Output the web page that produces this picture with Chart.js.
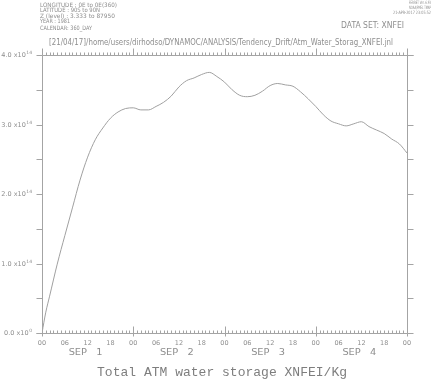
<!DOCTYPE html>
<html>
<head>
<meta charset="utf-8">
<script src="https://cdn.jsdelivr.net/npm/chart.js"></script>
<style>
  html, body { margin: 0; padding: 0; background: #fff; }
  canvas { display: block; }
</style>
</head>
<body>
<canvas id="myChart" width="433" height="383"></canvas>
<script>
// hours since SEP 1 00:00
const hours = [0, 1, 2, 4, 6, 8, 10, 12, 14, 16, 18, 20, 22, 24, 26, 28, 30, 32, 34, 36, 38, 40, 42, 44, 46, 48,
               50, 52, 54, 56, 58, 60, 62, 64, 66, 68, 70, 72, 74, 76, 78, 80, 82, 84, 86, 88, 90, 92, 94, 96];
// total ATM water storage, units of 1e14 kg
const storage = [0, 0.30, 0.53, 0.99, 1.40, 1.80, 2.20, 2.53, 2.78, 2.95, 3.09, 3.18, 3.23, 3.24, 3.21, 3.21, 3.26, 3.32,
                 3.41, 3.54, 3.63, 3.67, 3.72, 3.75, 3.69, 3.61, 3.50, 3.42, 3.40, 3.42, 3.48, 3.56, 3.59, 3.57,
                 3.55, 3.47, 3.37, 3.26, 3.14, 3.05, 3.01, 2.98, 3.01, 3.04, 2.97, 2.92, 2.87, 2.79, 2.72, 2.59];
const hourTicks = [0, 6, 12, 18, 24, 30, 36, 42, 48, 54, 60, 66, 72, 78, 84, 90, 96];
const dayLabels = ['SEP   1', 'SEP   2', 'SEP   3', 'SEP   4'];
const yTicks = [0, 1, 2, 3, 4];
const yTickLabels = ['0.0', '1.0', '2.0', '3.0', '4.0'];
const yExponents = ['0', '14', '14', '14', '14'];

const headerLeft = ['LONGITUDE : 0E to 0E(360)', 'LATITUDE : 90S to 90N', 'Z (level) : 3.333 to 87950',
                    'YEAR : 1981', 'CALENDAR: 360_DAY'];
const headerRight = ['FERRET Ver. 6.93', 'NOAA/PMEL TMAP', '21-APR-2017 23:05:52'];
const jnlPath = '[21/04/17]/home/users/dirhodso/DYNAMOC/ANALYSIS/Tendency_Drift/Atm_Water_Storag_XNFEI.jnl';
const dataSet = 'DATA SET: XNFEI';
const mainTitle = 'Total ATM water storage XNFEI/Kg';

const axisColor = '#a4a4a4';
const textColor = '#8e8e8e';
const sans = '"DejaVu Sans"';

// draw text squeezed/stretched to a given width
function fitText(ctx, txt, x, y, w, font, align) {
  ctx.font = font;
  const m = ctx.measureText(txt).width;
  const s = w / m;
  ctx.save();
  let x0 = x;
  if (align === 'center') x0 = x - w / 2;
  if (align === 'right') x0 = x - w;
  ctx.translate(x0, y);
  ctx.scale(s, 1);
  ctx.textAlign = 'left';
  ctx.fillText(txt, 0, 0);
  ctx.restore();
}

const ferretAxes = {
  id: 'ferretAxes',
  afterDraw(chart) {
    const { ctx, chartArea: a, scales: { x, y } } = chart;
    ctx.save();
    ctx.strokeStyle = axisColor;
    ctx.lineWidth = 1;
    const seg = (x1, y1, x2, y2) => { ctx.beginPath(); ctx.moveTo(x1, y1); ctx.lineTo(x2, y2); ctx.stroke(); };
    const L = Math.round(a.left) + 0.5, R = Math.round(a.right) + 0.5;
    const T = Math.round(a.top) + 0.5, B = Math.round(a.bottom) + 0.5;
    seg(L, T, L, B);
    seg(R, T - 6, R, B);
    seg(L, T, R + 6, T);
    seg(L - 6, B, R, B);

    // hourly ruler ticks, pointing up on top and bottom axes
    for (let h = 0; h <= 96; h++) {
      const px = Math.round(x.getPixelForValue(h)) + 0.5;
      let len = 3;
      if (h % 24 === 0) len = 7;
      seg(px, T, px, T - len);
      seg(px, B, px, B - len);
      if (h % 24 === 0) seg(px, B, px, B + 3);
    }
    // y ticks every 0.5, outward
    for (let v = 0; v <= 4; v += 0.5) {
      const py = Math.round(y.getPixelForValue(v)) + 0.5;
      seg(L, py, L - 6, py);
      seg(R, py, R + 6, py);
    }

    ctx.fillStyle = textColor;
    ctx.textBaseline = 'middle';
    // hour labels
    ctx.font = '6.5px ' + sans;
    ctx.textAlign = 'center';
    hourTicks.forEach(h => {
      ctx.fillText(String(h % 24).padStart(2, '0'), x.getPixelForValue(h), a.bottom + 10);
    });
    // day labels
    dayLabels.forEach((d, i) => {
      fitText(ctx, d, x.getPixelForValue(12 + 24 * i) - 2, a.bottom + 20, 34, '9px ' + sans, 'center');
    });
    // y labels with superscript exponent
    yTicks.forEach((v, i) => {
      const py = y.getPixelForValue(v);
      ctx.font = '4.5px ' + sans;
      ctx.textAlign = 'right';
      const xr = a.left - 10;
      ctx.fillText(yExponents[i], xr, py - 2);
      const ew = ctx.measureText(yExponents[i]).width;
      ctx.font = '6.5px ' + sans;
      ctx.fillText(yTickLabels[i] + ' x10', xr - ew - 0.5, py + 0.5);
    });

    // header texts
    ctx.textAlign = 'left';
    const leftW = [77, 60, 75, 30, 52];
    const leftY = [5, 10.5, 16, 21.5, 28];
    headerLeft.forEach((t, i) => fitText(ctx, t, 40, leftY[i], leftW[i], '6px ' + sans, 'left'));
    const rightW = [22, 22, 38];
    const rightY = [3, 8, 13];
    headerRight.forEach((t, i) => fitText(ctx, t, 431, rightY[i], rightW[i], '4.5px ' + sans, 'right'));
    fitText(ctx, dataSet, 341, 26, 63, '9px ' + sans, 'left');
    fitText(ctx, jnlPath, 49, 43, 344, '8.5px ' + sans, 'left');
    ctx.fillStyle = '#7e7e7e';
    fitText(ctx, mainTitle, 222, 372, 250, '13.5px "Liberation Mono"', 'center');
    ctx.restore();
  }
};

new Chart(document.getElementById('myChart'), {
  type: 'line',
  data: {
    datasets: [{
      label: 'Total ATM water storage',
      data: hours.map((h, i) => ({ x: h, y: storage[i] })),
      borderColor: '#a0a0a0',
      borderWidth: 1,
      pointRadius: 0,
      fill: false,
      cubicInterpolationMode: 'monotone'
    }]
  },
  options: {
    responsive: false,
    animation: false,
    devicePixelRatio: 1,
    layout: { padding: { left: 42, right: 26, top: 55, bottom: 50 } },
    plugins: { legend: { display: false }, tooltip: { enabled: false } },
    scales: {
      x: { type: 'linear', min: 0, max: 96, display: false },
      y: { min: 0, max: 4, display: false }
    }
  },
  plugins: [ferretAxes]
});
</script>
</body>
</html>
